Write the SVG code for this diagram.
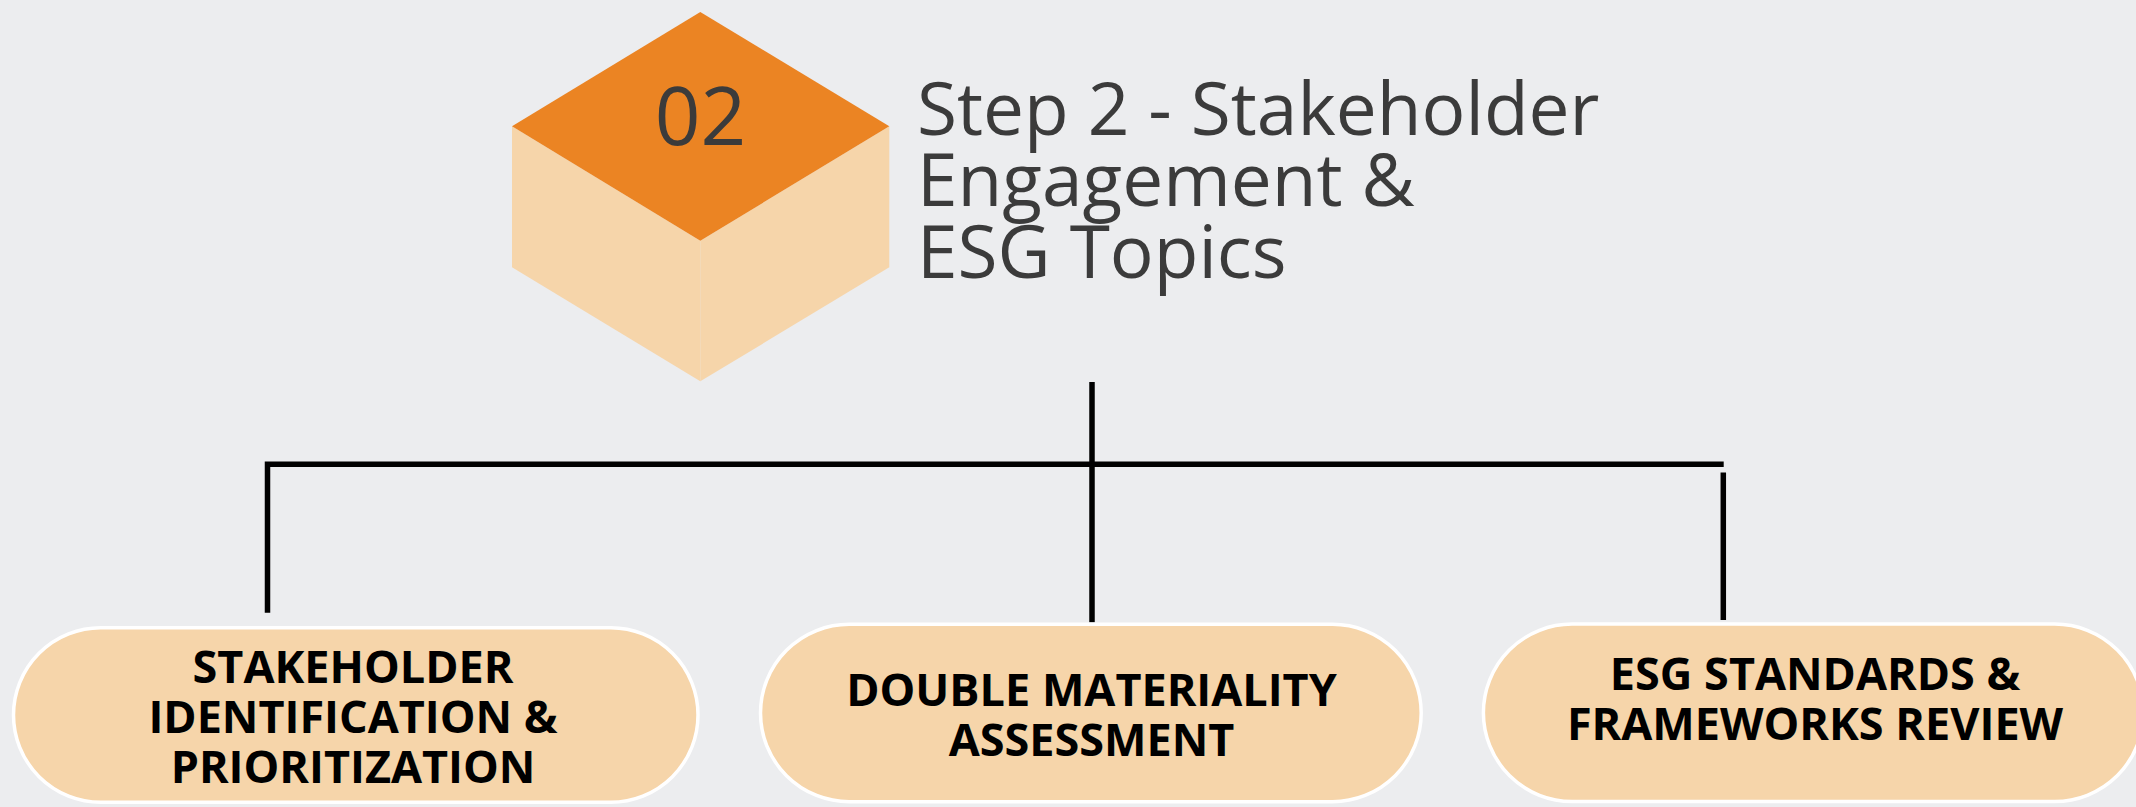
<svg xmlns="http://www.w3.org/2000/svg" width="2136" height="807" viewBox="0 0 2136 807">
  <style>
    .bg { fill: #ECEDEF; }
    .cube-top { fill: #EB8423; }
    .cube-side { fill: #F6D5AA; }
    .step-num { font-family: "Open Sans", "Liberation Sans", sans-serif; font-size: 80px; fill: #3b3b3b; text-anchor: middle; }
    .title { font-family: "Open Sans", "Liberation Sans", sans-serif; font-size: 73px; fill: #3b3b3b; }
    .pill { fill: #F6D5AA; stroke: #FFFFFF; stroke-width: 3.5; }
    .label { font-family: "Open Sans", "Liberation Sans", sans-serif; font-weight: 700; font-size: 45px; fill: #000000; text-anchor: middle; }
    .wire { fill: none; stroke: #000000; stroke-width: 5.5; stroke-linecap: butt; stroke-linejoin: miter; }
  </style>

  <rect class="bg" x="0" y="0" width="2136" height="807"/>

  <!-- Step header: isometric block with number and heading -->
  <g id="step-02">
    <polygon class="cube-side" points="512,126.3 700.3,240.7 700.3,381.3 512,267.3"/>
    <polygon class="cube-side" points="700.3,240.7 889.3,126.3 889.3,267.3 700.3,381.3"/>
    <polygon class="cube-top" points="700.3,12 889.3,126.3 700.3,240.7 512,126.3"/>
    <text class="step-num" x="700.5" y="145">02</text>
  </g>

  <g id="step-title">
    <text class="title" x="917" y="135">Step 2 - Stakeholder</text>
    <text class="title" x="917" y="206">Engagement &amp;</text>
    <text class="title" x="917" y="278">ESG Topics</text>
  </g>

  <!-- Tree connectors -->
  <g id="connectors">
    <path class="wire" d="M267.5 612.7 V464.3 H1723.7"/>
    <path class="wire" d="M1092 382 V622.3"/>
    <path class="wire" d="M1723.3 472.5 V620"/>
  </g>

  <!-- Child nodes -->
  <g id="stakeholder-identification">
    <rect class="pill" x="13.5" y="627.8" width="684.5" height="174.4" rx="87.2" ry="87.2"/>
    <text class="label" x="353" y="682.7">STAKEHOLDER</text>
    <text class="label" x="353" y="733.3">IDENTIFICATION &amp;</text>
    <text class="label" x="353" y="783.3">PRIORITIZATION</text>
  </g>

  <g id="double-materiality">
    <rect class="pill" x="760.5" y="624.3" width="660.7" height="177.4" rx="88.7" ry="88.7"/>
    <text class="label" x="1091.5" y="706">DOUBLE MATERIALITY</text>
    <text class="label" x="1091.5" y="755.7">ASSESSMENT</text>
  </g>

  <g id="esg-standards">
    <rect class="pill" x="1483.4" y="624.1" width="660" height="177.4" rx="88.7" ry="88.7"/>
    <text class="label" x="1815" y="690">ESG STANDARDS &amp;</text>
    <text class="label" x="1815" y="740">FRAMEWORKS REVIEW</text>
  </g>
</svg>
